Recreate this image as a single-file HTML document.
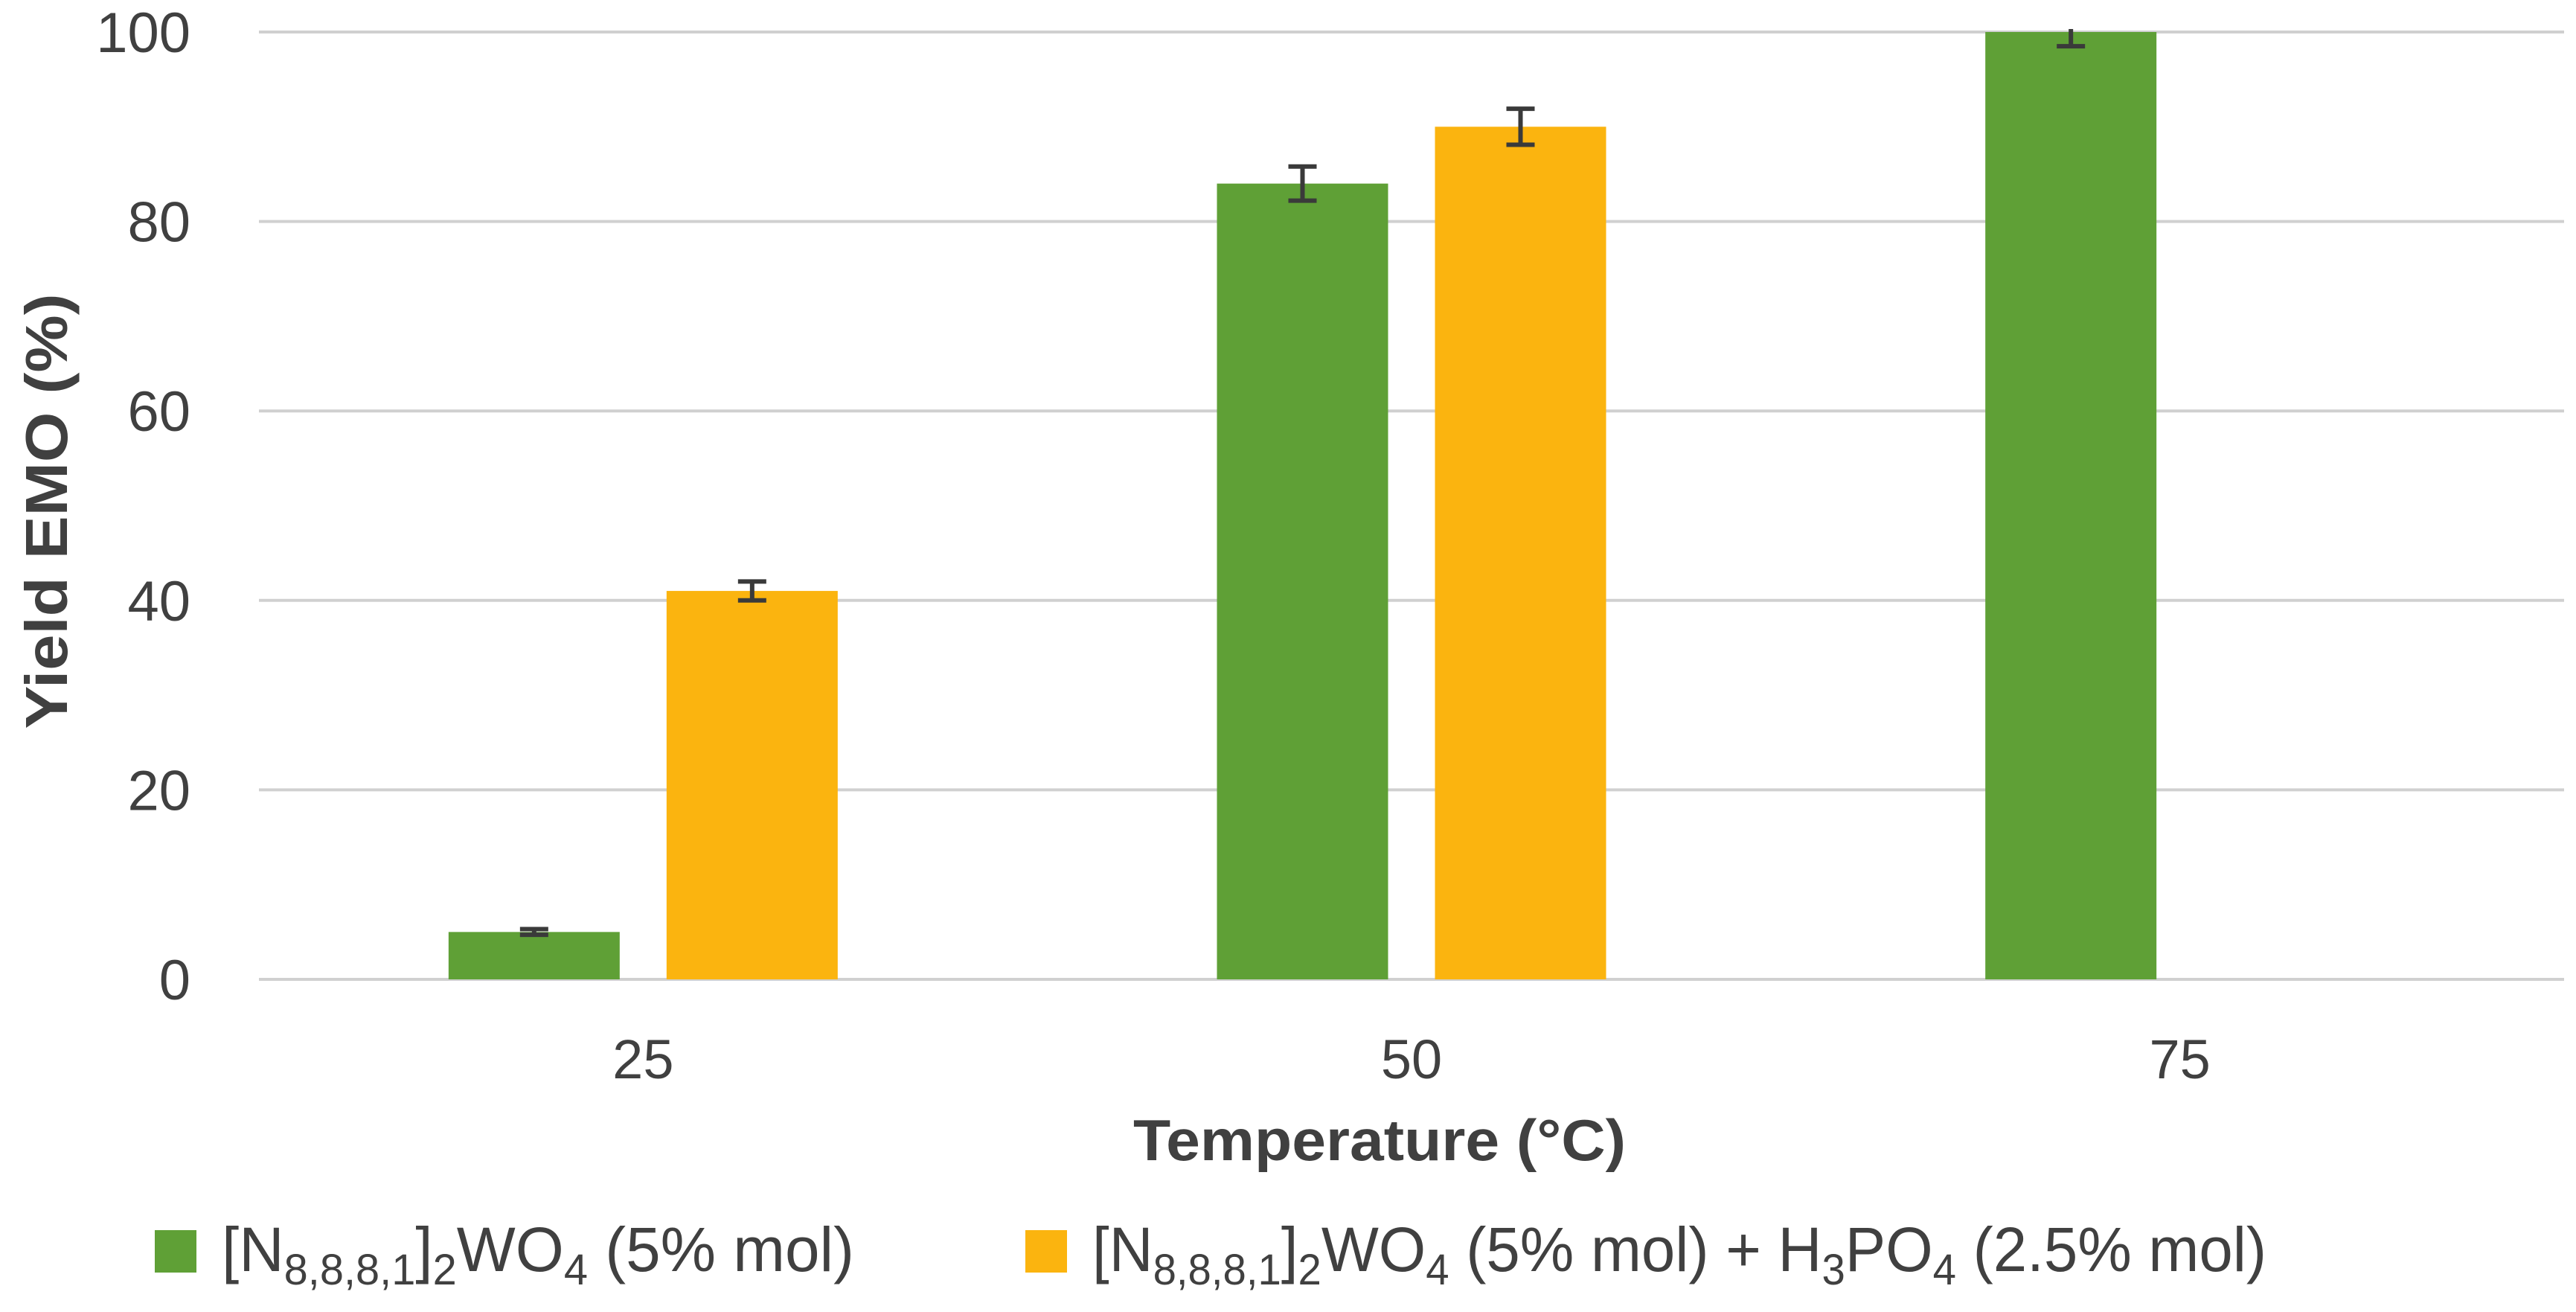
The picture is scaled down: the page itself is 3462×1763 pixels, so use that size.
<!DOCTYPE html>
<html><head><meta charset="utf-8"><style>
html,body{margin:0;padding:0;background:#fff;}
svg{display:block;}
text{font-family:"Liberation Sans","DejaVu Sans",sans-serif;fill:#404040;}
</style></head><body>
<svg id="chart" width="3462" height="1763" viewBox="0 0 3462 1763">
<g id="grid"></g>
<g id="yticks"></g>
<g id="bars"></g>
<g id="errs"></g>
<g id="xticks"></g>
<text transform="translate(90,687) rotate(-90)" text-anchor="middle" font-size="80" font-weight="bold" textLength="585" lengthAdjust="spacingAndGlyphs">Yield EMO (%)</text>
<text x="1854" y="1559" text-anchor="middle" font-size="78" font-weight="bold" textLength="662" lengthAdjust="spacingAndGlyphs">Temperature (°C)</text>
<g>
<rect x="208" y="1653" width="56" height="57" fill="#5fa036"/>
<text x="298" y="1708" font-size="84" textLength="850" lengthAdjust="spacingAndGlyphs">[N<tspan font-size="58" dy="18">8,8,8,1</tspan><tspan dy="-18">]</tspan><tspan font-size="58" dy="18">2</tspan><tspan dy="-18">WO</tspan><tspan font-size="58" dy="18">4</tspan><tspan dy="-18"> (5% mol)</tspan></text>
<rect x="1378" y="1653" width="56" height="57" fill="#fbb40f"/>
<text x="1468" y="1708" font-size="84" textLength="1578" lengthAdjust="spacingAndGlyphs">[N<tspan font-size="58" dy="18">8,8,8,1</tspan><tspan dy="-18">]</tspan><tspan font-size="58" dy="18">2</tspan><tspan dy="-18">WO</tspan><tspan font-size="58" dy="18">4</tspan><tspan dy="-18"> (5% mol) + H</tspan><tspan font-size="58" dy="18">3</tspan><tspan dy="-18">PO</tspan><tspan font-size="58" dy="18">4</tspan><tspan dy="-18"> (2.5% mol)</tspan></text>
</g>
</svg>
<script>
const categories = ["25", "50", "75"];
const seriesGreen = [5, 84, 100];
const seriesOrange = [41, 90, null];
const errGreen = [0.3, 1.8, 1.5];
const errOrange = [1.0, 1.9, null];
const yTicks = [0, 20, 40, 60, 80, 100];

const NS = "http://www.w3.org/2000/svg";
const X0 = 348, X1 = 3446, Y0 = 1316, Y100 = 43;
const yScale = v => Y0 - (v / 100) * (Y0 - Y100);
const catW = (X1 - X0) / categories.length;
const xCenter = i => X0 + catW * (i + 0.5);
const barW = 230, gap = 63;
function mk(tag, attrs, parent) {
  const e = document.createElementNS(NS, tag);
  for (const k in attrs) e.setAttribute(k, attrs[k]);
  parent.appendChild(e);
  return e;
}
const grid = document.getElementById('grid');
const yt = document.getElementById('yticks');
yTicks.forEach(t => {
  const l = mk('line', {x1: X0, x2: X1, y1: yScale(t), y2: yScale(t), stroke: '#d0d0d0', 'stroke-width': 4}, grid);
  
  
  const tx = mk('text', {x: 256, y: yScale(t) + 27, 'text-anchor': 'end', 'font-size': 76}, yt);
  tx.textContent = t;
  
  
});
const bars = document.getElementById('bars');
const errs = document.getElementById('errs');
const xt = document.getElementById('xticks');
function drawSeries(vals, errsArr, color, offset, name) {
  vals.forEach((v, i) => {
    if (v === null) return;
    const cx = xCenter(i) + offset;
    const r = mk('rect', {x: cx - barW / 2, y: yScale(v), width: barW, height: Y0 - yScale(v), fill: color}, bars);
    
    
    const e = errsArr[i];
    if (e !== null) {
      const g = mk('g', {stroke: '#3a3a3a', 'stroke-width': 6}, errs);
      
      
      const top = Math.max(yScale(v + e), Y100 - 4);
      mk('line', {x1: cx, x2: cx, y1: top, y2: yScale(v - e)}, g);
      if (v + e <= 100.5) mk('line', {x1: cx - 19, x2: cx + 19, y1: yScale(v + e), y2: yScale(v + e)}, g);
      mk('line', {x1: cx - 19, x2: cx + 19, y1: yScale(v - e), y2: yScale(v - e)}, g);
    }
  });
}
drawSeries(seriesGreen, errGreen, '#5fa036', -(barW + gap) / 2, 'green');
drawSeries(seriesOrange, errOrange, '#fbb40f', (barW + gap) / 2, 'orange');
categories.forEach((c, i) => {
  const t = mk('text', {x: xCenter(i), y: 1449, 'text-anchor': 'middle', 'font-size': 74}, xt);
  t.textContent = c;
  
  
});
</script>
</body></html>
